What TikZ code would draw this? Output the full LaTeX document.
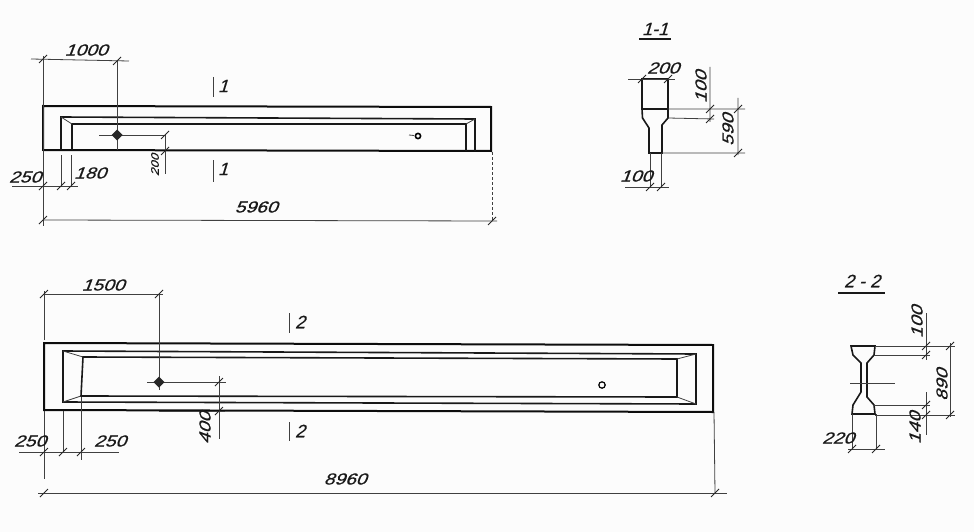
\documentclass[tikz,border=0pt]{standalone}
\usepackage{fontspec}
\setmainfont{Liberation Sans}
\newfontfamily\dimfont[FakeSlant=0.38,FakeStretch=1.2,FakeBold=0.7]{Liberation Sans}
\newfontfamily\sectfont[FakeSlant=0.3,FakeBold=0.5]{Liberation Sans}
\begin{document}
\begin{tikzpicture}[x=1pt,y=-1pt,
  heavy/.style={line width=2pt,black!95},
  mid/.style={line width=1.6pt,black!90},
  thin/.style={line width=0.8pt,black!75},
  dim/.style={font=\fontsize{16}{16}\selectfont\dimfont,inner sep=0pt,text=black!90},
  vdim/.style={dim,rotate=90},
  tickm/.style={line width=1pt,black!85},
  sect/.style={font=\fontsize{18}{18}\selectfont\sectfont,inner sep=0pt,text=black!90}]
\useasboundingbox (0,0) rectangle (974,532);
\fill[white!99!black] (0,0) rectangle (974,532);
\newcommand{\tk}[2]{\draw[tickm] (#1-4,#2+4) -- (#1+4,#2-4);}
%% top beam
\coordinate (a1) at (43,106); \coordinate (a2) at (491,107); \coordinate (a3) at (491,151); \coordinate (a4) at (43,150);
\draw[heavy] (a1) -- (a2) -- (a3) -- (a4) -- cycle;
\draw[mid] (61,150) -- (61,117) -- (475,119) -- (475,151);
\draw[mid] (72,150) -- (72,124) -- (466,124) -- (466,151);
\draw[thin] (61,117) -- (72,124) (475,119) -- (466,124);
\coordinate (h1) at (117,135);
\draw[thin] (99,135) -- (165,135);
\draw[thin] (117,60) -- (117,150);
\fill[black!85] (117,129.5) -- (122.5,135) -- (117,140.5) -- (111.5,135) -- cycle;
\draw[line width=1.6pt,black] (418,136) circle (2.6);
\draw[thin] (409,135) -- (414,135.5);
% top dims
\draw[thin] (31,59) -- (129,61);
\draw[thin] (43,56) -- (43,226);
\tk{43}{59}\tk{117}{61}
\node[dim] (t1000) at (86,50) {1000};
\draw[thin] (165,135) -- (165,174);
\tk{165}{135}\tk{165}{151}
\node[vdim,font=\fontsize{11}{11}\selectfont\dimfont] (t200) at (155,165) {200};
\draw[thin] (61,155) -- (61,186) (71,155) -- (71,186);
\draw[thin] (12,186) -- (78,186);
\tk{43}{186}\tk{61}{186}\tk{71}{186}
\node[dim] (t250a) at (25,177) {250};
\node[dim] (t180) at (90,173) {180};
\draw[thin] (43,220) -- (497,221);
\draw[thin,densely dashed] (492,152) -- (492,221);
\tk{43}{220}\tk{492}{221}
\node[dim] (t5960) at (256,207) {5960};
\draw[thin] (213,77) -- (213,97) (213,160) -- (213,182);
\node[sect] (s1a) at (223,86) {1};
\node[sect] (s1b) at (223,169) {1};
%% section 1-1
\node[sect] (s11) at (655,29) {1-1};
\draw[mid] (639,39) -- (671,39);
\draw[mid] (642,79) -- (668,79) -- (668,118) -- (662,125) -- (662,153) -- (649,153) -- (649,128) -- (642.5,118) -- (642,109) -- cycle;
\draw[mid] (642,109) -- (668,109);
\draw[thin] (628,79) -- (675,79);
\tk{642}{79}\tk{668}{79}
\node[dim] (t200b) at (663,68) {200};
\draw[thin] (668,109) -- (745,109) (668,118) -- (714,119) (710,67) -- (710,122) (738,98) -- (738,155) (662,153) -- (745,153);
\tk{710}{109}\tk{710}{119}\tk{738}{109}\tk{738}{153}
\node[vdim] (t100a) at (701,87) {100};
\node[vdim] (t590) at (728,130) {590};
\draw[thin] (650,153) -- (650,188) (661,153) -- (661,188) (625,187) -- (669,187);
\tk{650}{187}\tk{661}{187}
\node[dim] (t100b) at (636,176) {100};
%% lower beam
\draw[heavy] (44,343) -- (713,345) -- (713,412) -- (44,410) -- cycle;
\draw[mid] (63,351) -- (696,354) -- (696,404) -- (63,402) -- cycle;
\draw[mid] (83,357) -- (677,359) -- (677,397) -- (81,396) -- cycle;
\draw[thin] (63,351) -- (83,357) (696,354) -- (677,359) (696,404) -- (677,397) (63,402) -- (81,396);
\draw[line width=1.2pt] (602,385) circle (3.2);
\draw[thin] (147,382) -- (226,382);
\draw[thin] (159,294) -- (159,390);
\fill[black!85] (159,376.5) -- (164.5,382) -- (159,387.5) -- (153.5,382) -- cycle;
\draw[thin] (44,294) -- (163,294);
\draw[thin] (44,291) -- (44,340) (44,411) -- (44,479);
\tk{44}{294}\tk{159}{294}
\node[dim] (t1500) at (103,285) {1500};
\draw[thin] (219,376) -- (219,439) (159,411) -- (225,411);
\tk{219}{382}\tk{219}{411}
\node[vdim] (t400) at (205,428) {400};
\draw[thin] (63,411) -- (63,453) (81,397) -- (81,460) (19,452) -- (119,452);
\tk{44}{452}\tk{63}{452}\tk{81}{452}
\node[dim] (t250b) at (30,441) {250};
\node[dim] (t250c) at (110,441) {250};
\draw[thin] (38,493) -- (727,493);
\draw[thin] (714,412) -- (715,493);
\tk{44}{493}\tk{715}{493}
\node[dim] (t8960) at (345,479) {8960};
\draw[thin] (289,313) -- (289,333) (289,422) -- (289,441);
\node[sect] (s2a) at (300,322) {2};
\node[sect] (s2b) at (300,431) {2};
%% section 2-2
\node[sect] (s22) at (862,281) {2 - 2};
\draw[mid] (838,293) -- (885,293);
\draw[mid] (851,346) -- (853,355) -- (861,363) -- (861,392) -- (853,405) -- (852,414) -- (875,414) -- (874,405) -- (867,397) -- (867,363) -- (874,355) -- (875,346) -- cycle;
\draw[thin] (850,383) -- (895,383);
\draw[thin] (875,346) -- (955,346) (874,355) -- (930,355) (926,313) -- (926,360) (950,343) -- (950,417) (874,405) -- (930,405) (875,415) -- (955,415) (926,392) -- (926,435);
\tk{926}{346}\tk{926}{355}\tk{950}{346}\tk{950}{415}\tk{926}{405}\tk{926}{415}
\node[vdim] (t100c) at (917,322) {100};
\node[vdim] (t890) at (942,385) {890};
\node[vdim] (t140) at (915,428) {140};
\draw[thin] (852,414) -- (852,450) (876,414) -- (876,450) (848,449) -- (885,449);
\tk{852}{449}\tk{876}{449}
\node[dim] (t220) at (838,438) {220};
\end{tikzpicture}
\end{document}
